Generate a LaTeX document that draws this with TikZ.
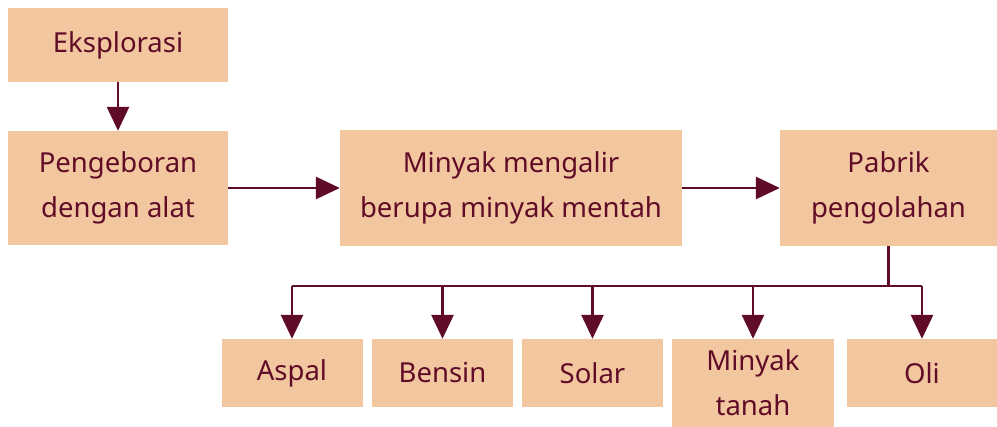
\documentclass[tikz,border=0pt]{standalone}
\usepackage{fontspec}
\setmainfont{Noto Sans}
\usetikzlibrary{positioning,arrows.meta}
\definecolor{boxtan}{RGB}{242,198,158}
\definecolor{oilred}{RGB}{96,12,40}

\begin{document}
\begin{tikzpicture}[x=1pt,y=-1pt,
  box/.style={rectangle,fill=boxtan,text=oilred,align=center,inner sep=0pt,
    font=\fontsize{27.5}{45}\selectfont,minimum height=68pt},
  arr/.style={-{Triangle[width=22pt,length=24pt]},oilred,line width=2.8pt}
]
\useasboundingbox (0,0) rectangle (997,427);
\node[box,minimum width=220pt,minimum height=74pt] (eks) at (118,45) {Eksplorasi};
\node[box,minimum width=220pt,minimum height=114pt] (bor) at (118,188) {Pengeboran\\dengan alat};
\node[box,minimum width=342pt,minimum height=116pt] (mentah) at (511,188) {Minyak mengalir\\berupa minyak mentah};
\node[box,minimum width=217pt,minimum height=116pt] (pabrik) at (888.5,188) {Pabrik\\pengolahan};

\node[box,minimum width=141pt] (aspal) at (292,373) {Aspal};
\node[box,minimum width=141pt] (bensin) at (442.5,373) {Bensin};
\node[box,minimum width=141pt] (solar) at (592.5,373) {Solar};
\node[box,minimum width=162pt,minimum height=88pt] (tanah) at (753,383) {Minyak\\tanah};
\node[box,minimum width=150pt] (oli) at (922,373) {Oli};

\coordinate (cabang) at (888.5,286);

\draw[arr] (eks) -- (bor);
\draw[arr] (bor) -- (mentah);
\draw[arr] (mentah) -- (pabrik);
\draw[oilred,line width=2.8pt] (pabrik.south) -- (cabang);
\draw[oilred,line width=2.8pt] (aspal.north |- cabang) -- (oli.north |- cabang);
\foreach \n in {aspal,bensin,solar,tanah,oli}
  \draw[arr] (\n.north |- cabang) -- (\n.north);
\end{tikzpicture}
\end{document}
